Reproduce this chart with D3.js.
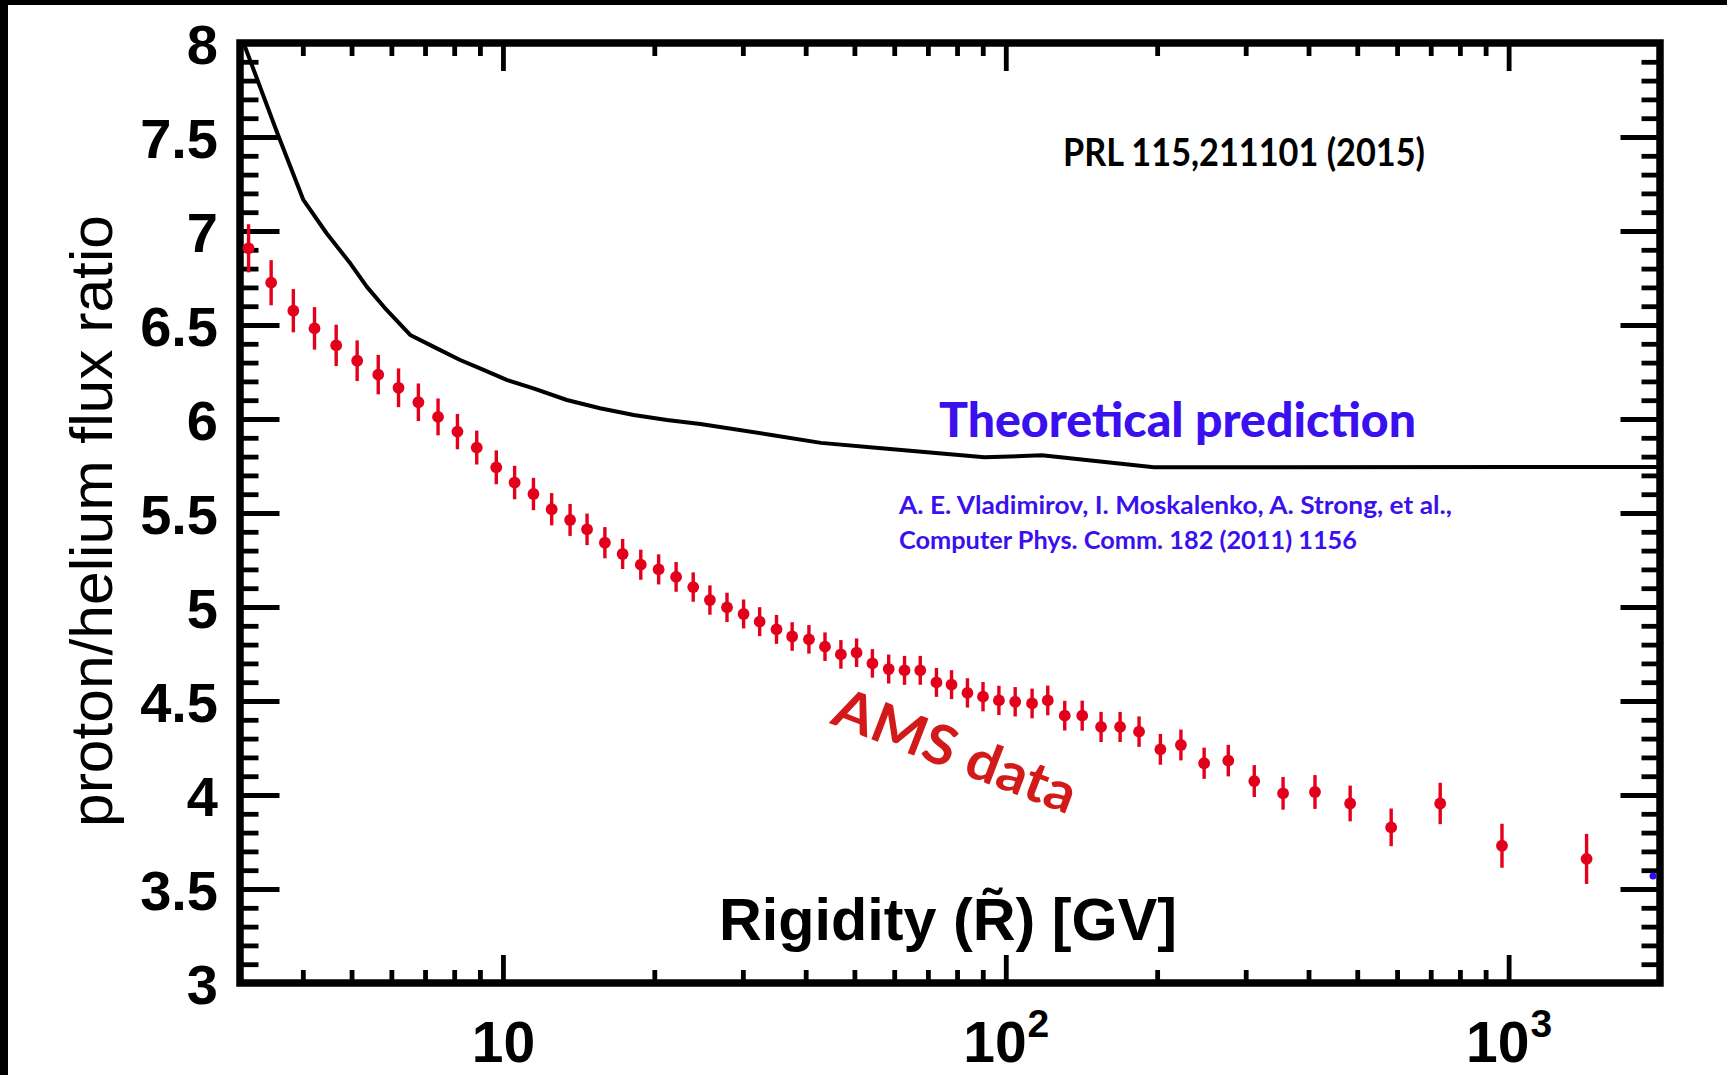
<!DOCTYPE html>
<html>
<head>
<meta charset="utf-8">
<script src="https://cdn.jsdelivr.net/npm/d3@7"></script>
<style>
  html, body { margin: 0; padding: 0; background: #fff; }
  svg { display: block; }
</style>
</head>
<body>
<script>
// ---------------- DATA ----------------
// AMS proton/helium flux ratio vs rigidity [GV]
const rigidity = [3.12, 3.46, 3.83, 4.22, 4.66, 5.13, 5.65, 6.20, 6.79, 7.43,
  8.12, 8.87, 9.70, 10.55, 11.5, 12.5, 13.6, 14.7, 15.95, 17.3,
  18.8, 20.4, 22.1, 23.9, 25.8, 27.9, 30.1, 32.4, 35.0, 37.6,
  40.6, 43.7, 47.0, 50.5, 54.3, 58.5, 62.9, 67.6, 72.8, 78.0,
  83.9, 90.1, 96.9, 104.4, 112.8, 121.2, 131, 141.9, 154.7, 168.8,
  184.1, 203, 223, 248, 277, 312, 356, 412, 484, 584,
  731, 970, 1429];
const ratio = [6.908, 6.725, 6.576, 6.482, 6.392, 6.310, 6.236, 6.166, 6.089, 6.011,
  5.933, 5.848, 5.743, 5.662, 5.601, 5.520, 5.463, 5.413, 5.342, 5.282,
  5.225, 5.200, 5.160, 5.106, 5.037, 4.998, 4.963, 4.922, 4.881, 4.843,
  4.828, 4.789, 4.748, 4.757, 4.700, 4.670, 4.663, 4.663, 4.599, 4.587,
  4.543, 4.523, 4.503, 4.496, 4.487, 4.503, 4.422, 4.422, 4.362, 4.362,
  4.337, 4.243, 4.266, 4.169, 4.183, 4.074, 4.009, 4.016, 3.955, 3.828,
  3.955, 3.730, 3.660];
const ratioErr = [0.128, 0.120, 0.115, 0.113, 0.110, 0.108, 0.105, 0.103, 0.100, 0.098,
  0.094, 0.090, 0.090, 0.089, 0.086, 0.086, 0.085, 0.084, 0.083, 0.080,
  0.080, 0.080, 0.079, 0.078, 0.078, 0.078, 0.077, 0.077, 0.077, 0.076,
  0.076, 0.076, 0.076, 0.076, 0.076, 0.077, 0.077, 0.077, 0.077, 0.077,
  0.078, 0.078, 0.078, 0.078, 0.079, 0.079, 0.079, 0.080, 0.080, 0.080,
  0.081, 0.082, 0.082, 0.083, 0.084, 0.085, 0.087, 0.090, 0.095, 0.100,
  0.110, 0.117, 0.133];

// Theoretical prediction (GALPROP) curve
const theoryRigidity = [3.05, 3.56, 4.01, 4.46, 4.97, 5.36, 5.87, 6.54, 7.27, 8.22,
  9.15, 10.2, 11.5, 13.4, 15.6, 18.2, 21.2, 24.7, 34.2, 42.9,
  56.6, 90.7, 118, 197, 2000];
const theoryRatio = [8.0, 7.52, 7.165, 6.988, 6.828, 6.704, 6.58, 6.447, 6.385, 6.314,
  6.261, 6.207, 6.163, 6.101, 6.057, 6.021, 5.995, 5.973, 5.915, 5.873,
  5.844, 5.796, 5.807, 5.743, 5.745];

// stray blue mark near right axis
const strayMark = [1937, 3.569];

// Axes
const xDomain = [3, 2000];
const yDomain = [3, 8];
const xMajorTicks = [10, 100, 1000];
const xTickBase = ["10", "10", "10"];
const xTickExp = ["", "2", "3"];
const xMinorTicks = [4, 5, 6, 7, 8, 9, 20, 30, 40, 50, 60, 70, 80, 90,
  200, 300, 400, 500, 600, 700, 800, 900];
const yMajorTicks = [3, 3.5, 4, 4.5, 5, 5.5, 6, 6.5, 7, 7.5, 8];
const yTickLabels = ["3", "3.5", "4", "4.5", "5", "5.5", "6", "6.5", "7", "7.5", "8"];
const yMinorTicks = d3.range(30, 81).map(d => d / 10);

// ---------------- DRAW ----------------
const W = 1727, H = 1075;
const L = 240, R = 1660, T = 43, B = 983;
const svg = d3.select("body").append("svg").attr("width", W).attr("height", H);
svg.append("rect").attr("width", W).attr("height", H).attr("fill", "#fff");
// black edges of the original screenshot
svg.append("rect").attr("x", 0).attr("y", 0).attr("width", W).attr("height", 5).attr("fill", "#000");
svg.append("rect").attr("x", 0).attr("y", 0).attr("width", 8).attr("height", H).attr("fill", "#000");

const x = d3.scaleLog().domain(xDomain).range([L, R]);
const y = d3.scaleLinear().domain(yDomain).range([B, T]);

const tickFont = "'Liberation Sans', Arial, Helvetica, sans-serif";
const calibri = "Lato, 'Open Sans', sans-serif";

function styleAxis(g, w) {
  g.select(".domain").remove();
  g.selectAll(".tick line").attr("stroke", "#000").attr("stroke-width", w);
}

// Left axis
svg.append("g").attr("transform", `translate(${L},0)`)
  .call(d3.axisLeft(y).tickValues(yMinorTicks).tickSize(-18.5).tickFormat(""))
  .call(g => styleAxis(g, 4.8));
const yl = svg.append("g").attr("transform", `translate(${L},0)`)
  .call(d3.axisLeft(y).tickValues(yMajorTicks).tickSize(-39.5).tickPadding(22)
    .tickFormat((d, i) => yTickLabels[i]))
  .call(g => styleAxis(g, 4.8));
yl.selectAll("text").attr("font-family", tickFont).attr("font-weight", "bold")
  .attr("font-size", 56).attr("fill", "#000").attr("dy", "0.36em");

// Right axis
svg.append("g").attr("transform", `translate(${R},0)`)
  .call(d3.axisRight(y).tickValues(yMinorTicks).tickSize(-18.5).tickFormat(""))
  .call(g => styleAxis(g, 4.8));
svg.append("g").attr("transform", `translate(${R},0)`)
  .call(d3.axisRight(y).tickValues(yMajorTicks).tickSize(-39.5).tickFormat(""))
  .call(g => styleAxis(g, 4.8));

// Bottom axis
svg.append("g").attr("transform", `translate(0,${B})`)
  .call(d3.axisBottom(x).tickValues(xMinorTicks).tickSize(-13).tickFormat(""))
  .call(g => styleAxis(g, 4.8));
const xb = svg.append("g").attr("transform", `translate(0,${B})`)
  .call(d3.axisBottom(x).tickValues(xMajorTicks).tickSize(-28).tickPadding(39).tickFormat(""))
  .call(g => styleAxis(g, 4.8));
xb.selectAll(".tick text").each(function (d, i) {
  const t = d3.select(this).text(null)
    .attr("font-family", tickFont).attr("font-weight", "bold")
    .attr("font-size", 57).attr("fill", "#000").attr("dy", "0.71em");
  t.append("tspan").text(xTickBase[i]);
  if (xTickExp[i]) {
    t.append("tspan").attr("font-size", 39).attr("dy", -25).attr("dx", 1).text(xTickExp[i]);
  }
});

// Top axis
svg.append("g").attr("transform", `translate(0,${T})`)
  .call(d3.axisTop(x).tickValues(xMinorTicks).tickSize(-13).tickFormat(""))
  .call(g => styleAxis(g, 4.8));
svg.append("g").attr("transform", `translate(0,${T})`)
  .call(d3.axisTop(x).tickValues(xMajorTicks).tickSize(-28).tickFormat(""))
  .call(g => styleAxis(g, 4.8));

// Frame
svg.append("rect").attr("x", L).attr("y", T).attr("width", R - L).attr("height", B - T)
  .attr("fill", "none").attr("stroke", "#000").attr("stroke-width", 7.5);

// Theory curve
const theory = theoryRigidity.map((r, i) => [r, theoryRatio[i]]);
svg.append("path").datum(theory)
  .attr("d", d3.line().x(d => x(d[0])).y(d => y(d[1])))
  .attr("fill", "none").attr("stroke", "#000").attr("stroke-width", 4)
  .attr("stroke-linejoin", "round");

// AMS data
const pts = rigidity.map((r, i) => ({ r, v: ratio[i], e: ratioErr[i] }));
const red = "#e3001b";
svg.append("g").selectAll("line").data(pts).join("line")
  .attr("x1", d => x(d.r)).attr("x2", d => x(d.r))
  .attr("y1", d => y(d.v - d.e)).attr("y2", d => y(d.v + d.e))
  .attr("stroke", red).attr("stroke-width", 3.4);
svg.append("g").selectAll("circle").data(pts).join("circle")
  .attr("cx", d => x(d.r)).attr("cy", d => y(d.v)).attr("r", 5.9)
  .attr("fill", red);

// stray blue mark
svg.append("circle").attr("cx", x(strayMark[0])).attr("cy", y(strayMark[1]))
  .attr("r", 3.5).attr("fill", "#2a10f0");

// Axis titles
svg.append("text")
  .attr("transform", "translate(112,521) rotate(-90)")
  .attr("text-anchor", "middle")
  .attr("font-family", tickFont).attr("font-size", 60).attr("fill", "#000")
  .attr("textLength", 612).attr("lengthAdjust", "spacingAndGlyphs")
  .text("proton/helium flux ratio");

svg.append("text")
  .attr("x", 719).attr("y", 940)
  .attr("font-family", tickFont).attr("font-weight", "bold").attr("font-size", 59).attr("fill", "#000")
  .attr("textLength", 458).attr("lengthAdjust", "spacingAndGlyphs")
  .text("Rigidity (R\u0303) [GV]");

// Annotations
svg.append("text")
  .attr("x", 1063).attr("y", 166)
  .attr("font-family", calibri).attr("font-weight", "bold").attr("font-size", 38).attr("fill", "#000")
  .attr("textLength", 362).attr("lengthAdjust", "spacingAndGlyphs")
  .text("PRL 115,211101 (2015)");

const blue = "#3a10ee";
svg.append("text")
  .attr("x", 939).attr("y", 437)
  .attr("font-family", calibri).attr("font-weight", "900").attr("font-size", 47).attr("fill", blue)
  .attr("textLength", 477).attr("lengthAdjust", "spacingAndGlyphs")
  .text("Theoretical prediction");

svg.append("text")
  .attr("x", 899).attr("y", 514)
  .attr("font-family", calibri).attr("font-weight", "bold").attr("font-size", 24).attr("fill", blue)
  .attr("textLength", 553).attr("lengthAdjust", "spacingAndGlyphs")
  .text("A. E. Vladimirov, I. Moskalenko, A. Strong, et al.,");

svg.append("text")
  .attr("x", 899).attr("y", 549)
  .attr("font-family", calibri).attr("font-weight", "bold").attr("font-size", 24).attr("fill", blue)
  .attr("textLength", 458).attr("lengthAdjust", "spacingAndGlyphs")
  .text("Computer Phys. Comm. 182 (2011) 1156");

svg.append("text")
  .attr("transform", "translate(829,723) rotate(21)")
  .attr("font-family", calibri).attr("font-weight", "bold").attr("font-size", 55).attr("fill", "#d21a1a")
  .attr("textLength", 256).attr("lengthAdjust", "spacingAndGlyphs")
  .text("AMS data");
</script>
</body>
</html>
